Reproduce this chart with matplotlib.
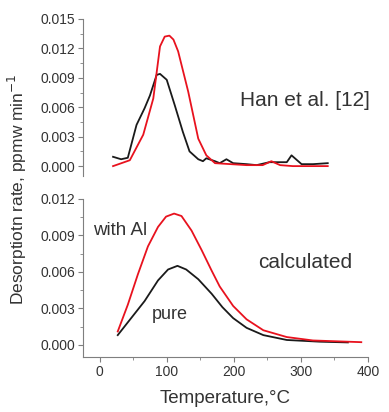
import numpy as np
import matplotlib.pyplot as plt
from matplotlib.ticker import MultipleLocator

plt.rcParams["font.family"] = ["Liberation Sans", "DejaVu Sans"]

# Han et al. [12] (measured)
han_pure_T = [20, 32, 42, 55, 67, 75, 85, 90, 100, 112, 124, 134, 147, 154, 159, 172, 179, 189,
              199, 219, 234, 253, 269, 279, 286, 301, 318, 340]
han_pure = [0.00095, 0.0007, 0.00085, 0.0042, 0.0059, 0.0072, 0.0093, 0.0094, 0.0088, 0.0062,
            0.0035, 0.0015, 0.0007, 0.0005, 0.0008, 0.0005, 0.0003, 0.0007, 0.0003, 0.0002,
            0.0001, 0.0004, 0.0004, 0.0004, 0.0011, 0.0002, 0.0002, 0.0003]
han_al_T = [20, 45, 65, 80, 90, 97, 104, 110, 117, 132, 147, 159, 172, 219, 243, 256, 269, 288, 340]
han_al = [0.0000, 0.0006, 0.0032, 0.0069, 0.0122, 0.0132, 0.0133, 0.0129, 0.0117, 0.0076,
          0.0028, 0.0011, 0.0003, 0.0001, 0.0001, 0.0005, 0.0001, 0.0000, 0.0000]

# calculated
calc_T_al = [27, 42, 57, 72, 87, 99, 111, 122, 137, 152, 167, 179, 199, 219, 244, 279, 318, 390]
calc_al = [0.0011, 0.0033, 0.0058, 0.0081, 0.0097, 0.01055, 0.0108, 0.0106, 0.0094, 0.0078,
           0.0061, 0.0048, 0.0032, 0.0021, 0.0012, 0.00064, 0.00036, 0.00022]
calc_T_pure = [27, 47, 67, 87, 102, 116, 129, 147, 167, 183, 199, 219, 244, 279, 328, 370]
calc_pure = [0.0008, 0.0022, 0.0036, 0.0053, 0.0062, 0.0065, 0.0062, 0.0054, 0.0042, 0.0031,
             0.0022, 0.0014, 0.0008, 0.0004, 0.00026, 0.0002]

red = "#e8121e"
dark = "#1a1a1a"
gray = "#7f7f7f"
txt = "#333333"

fig = plt.figure(figsize=(3.89, 4.12), dpi=100)
ax1 = fig.add_axes([0.213, 0.573, 0.733, 0.381])
ax2 = fig.add_axes([0.213, 0.1335, 0.733, 0.3835])


def style(ax, ymax, bottom):
    ax.set_xlim(-25, 400)
    ax.set_ylim(-0.001, ymax)
    for s in ["top", "right"]:
        ax.spines[s].set_visible(False)
    ax.spines["left"].set_color(gray)
    ax.spines["bottom"].set_color(gray)
    ax.yaxis.set_major_locator(MultipleLocator(0.003))
    ax.yaxis.set_minor_locator(MultipleLocator(0.0015))
    ax.xaxis.set_major_locator(MultipleLocator(100))
    ax.xaxis.set_minor_locator(MultipleLocator(50))
    ax.tick_params(which="both", direction="out", colors=gray, labelcolor=txt, labelsize=10)
    ax.tick_params(which="major", length=3.5, pad=2)
    ax.tick_params(which="minor", length=2)
    ax.yaxis.set_major_formatter(plt.FormatStrFormatter("%.3f"))
    if not bottom:
        ax.spines["bottom"].set_visible(False)
        ax.tick_params(axis="x", which="both", bottom=False, labelbottom=False)


style(ax1, 0.015, False)
style(ax2, 0.012, True)

ax1.plot(han_pure_T, han_pure, color=dark, lw=1.3)
ax1.plot(han_al_T, han_al, color=red, lw=1.3)
ax1.text(0.55, 0.48, "Han et al. [12]", transform=ax1.transAxes, fontsize=15, color=txt,
         va="center")

ax2.plot(calc_T_pure, calc_pure, color=dark, lw=1.3)
ax2.plot(calc_T_al, calc_al, color=red, lw=1.3)
ax2.text(0.035, 0.80, "with Al", transform=ax2.transAxes, fontsize=13.5, color=txt, va="center")
ax2.text(0.242, 0.266, "pure", transform=ax2.transAxes, fontsize=13, color=txt, va="center")
ax2.text(0.614, 0.595, "calculated", transform=ax2.transAxes, fontsize=15, color=txt,
         va="center")

ax2.set_xlabel("Temperature,\u00b0C", fontsize=13.5, color=txt, labelpad=8)
fig.text(0.045, 0.54, "Desorptiotn rate, ppmw min$^{-1}$", rotation=90, fontsize=12.5,
         color=txt, ha="center", va="center")

fig.savefig("out.png", dpi=100)
